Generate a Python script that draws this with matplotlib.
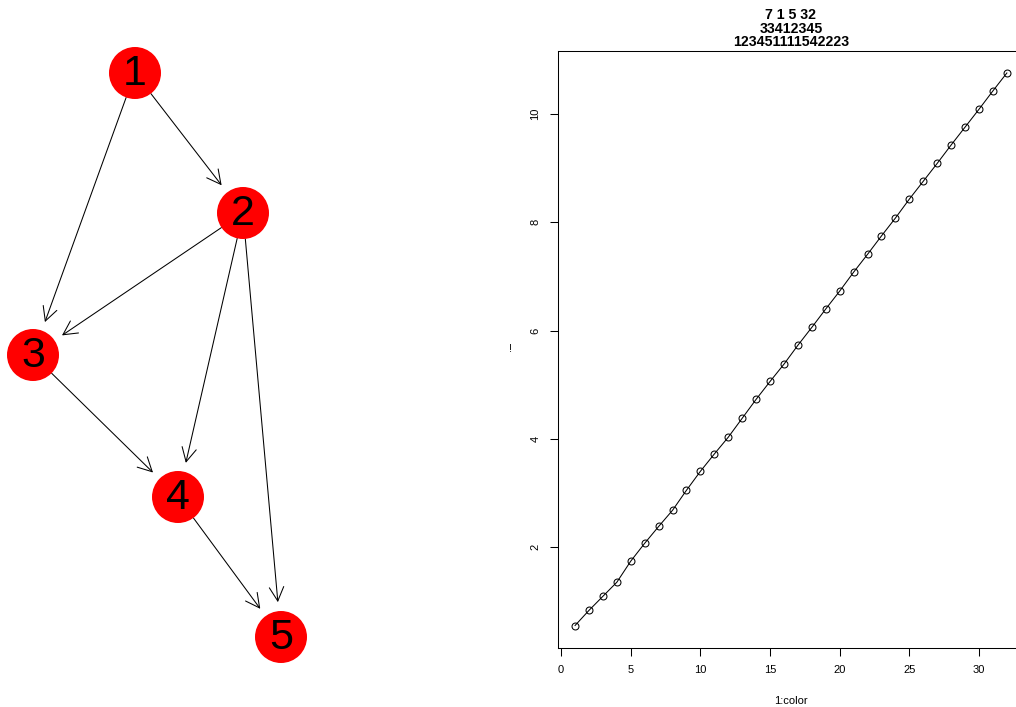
import numpy as np
import matplotlib
matplotlib.use('Agg')
import matplotlib.pyplot as plt
from matplotlib.patches import Circle, FancyArrowPatch

plt.rcParams['font.family'] = ['Liberation Sans', 'DejaVu Sans']

# graph layout (pixel positions in the left panel) and edges
node_ids = [1, 2, 3, 4, 5]
node_x = [135, 243, 33, 178, 281]
node_y = [73, 213, 355, 497, 637]
edges = [(1, 2), (1, 3), (2, 3), (2, 4), (2, 5), (3, 4), (4, 5)]

# right panel series
color_vals = [0.55, 0.83, 1.09, 1.35, 1.74, 2.07, 2.38, 2.68, 3.05, 3.40,
              3.72, 4.03, 4.38, 4.73, 5.06, 5.38, 5.73, 6.06, 6.40, 6.73,
              7.08, 7.41, 7.75, 8.08, 8.43, 8.76, 9.09, 9.43, 9.76, 10.09,
              10.43, 10.76]
title_lines = ["7 1 5 32", "33412345", "123451111542223"]
xticks = [0, 5, 10, 15, 20, 25, 30]
yticks = [2, 4, 6, 8, 10]

fig = plt.figure(figsize=(10.16, 7.07), dpi=100)

# ---- left: directed graph ----
axg = fig.add_axes([0, 0, 0.5, 1])
axg.set_xlim(0, 508)
axg.set_ylim(707, 0)
axg.axis('off')

pos = {n: (x, y) for n, x, y in zip(node_ids, node_x, node_y)}
radius = 26
px2pt = 0.72
for a, b in edges:
    arr = FancyArrowPatch(pos[a], pos[b],
                          arrowstyle='->,head_length=10,head_width=5.2',
                          mutation_scale=1, lw=0.75, color='black',
                          shrinkA=radius * px2pt, shrinkB=35 * px2pt,
                          zorder=1)
    axg.add_patch(arr)
for n in node_ids:
    x, y = pos[n]
    axg.add_patch(Circle((x, y), radius, facecolor='#ff0000',
                         edgecolor='none', zorder=2))
    axg.text(x, y + 1, str(n), fontsize=31, ha='center', va='center',
             zorder=3)

# ---- right: scatter/line ----
ax = fig.add_axes([0.549, 0.084, 0.459, 0.844])
x = np.arange(1, len(color_vals) + 1)
ax.plot(x, color_vals, color='black', lw=0.75, marker='o', ms=5,
        mfc='none', mec='black', mew=0.75)
ax.set_xlim(-0.24, 33.24)
span = max(color_vals) - min(color_vals)
ax.set_ylim(min(color_vals) - 0.04 * span, max(color_vals) + 0.04 * span)
ax.set_xticks(xticks)
ax.set_yticks(yticks)
ax.tick_params(direction='out', length=5.5, width=0.75, labelsize=8,
               pad=7, colors='black')
for lbl in ax.get_yticklabels():
    lbl.set_rotation(90)
    lbl.set_va('center')
for s in ax.spines.values():
    s.set_linewidth(0.75)
ax.set_xlabel("1:color", fontsize=8, labelpad=15)
ax.set_ylabel("!", fontsize=8, rotation=0, labelpad=14, va='center')
ax.set_title("\n".join(title_lines), fontsize=10.2, fontweight='bold',
             linespacing=0.97, pad=3.4)

fig.savefig("out.png", dpi=100)
